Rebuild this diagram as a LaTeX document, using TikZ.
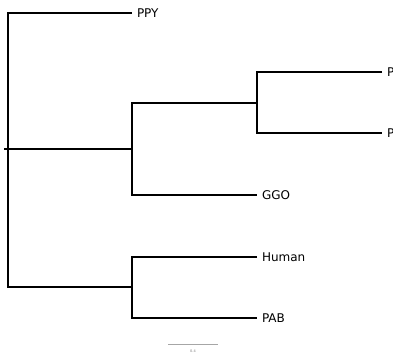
\documentclass[tikz,border=0pt]{standalone}
\usepackage{fontspec}
\setmainfont{DejaVu Sans}
\usetikzlibrary{positioning}
\begin{document}
\begin{tikzpicture}[x=1pt,y=-1pt,
  branch/.style={line width=1.8pt},
  leaf/.style={anchor=west,inner sep=0pt,outer sep=0pt,xshift=5pt,font=\fontsize{12}{14}\selectfont},
  scalebar/.style={draw=gray!70,line width=0.7pt}]
  \useasboundingbox (0,0) rectangle (393,360);
  \clip (0,0) rectangle (393,360);
  % inner nodes of the tree
  \coordinate (stem) at (4,149);
  \coordinate (root) at (8,149);
  \coordinate (ape) at (132,149);
  \coordinate (pan) at (257,103);
  \coordinate (pongo) at (132,287);
  % tips
  \coordinate (tppy) at (132,13);
  \coordinate (tp1) at (382,72);
  \coordinate (tp2) at (382,133);
  \coordinate (tggo) at (257,195);
  \coordinate (thum) at (257,257);
  \coordinate (tpab) at (257,318);
  \node[leaf](ppy) at (tppy) {PPY};
  \node[leaf](p1) at (tp1) {P};
  \node[leaf](p2) at (tp2) {P};
  \node[leaf](ggo) at (tggo) {GGO};
  \node[leaf](hum) at (thum) {Human};
  \node[leaf](pab) at (tpab) {PAB};
  % branches
  \draw[branch](stem)--(root);
  \draw[branch](tppy)-|(root)|-(pongo);
  \draw[branch](root)--(ape);
  \draw[branch](pan)-|(ape)|-(tggo);
  \draw[branch](tp1)-|(pan)|-(tp2);
  \draw[branch](thum)-|(pongo)|-(tpab);
  % scale
  \coordinate (sa) at (168,344.5);
  \coordinate (sb) at (218,344.5);
  \draw[scalebar](sa)--(sb);
  \node[text=gray,font=\fontsize{3.5}{4}\selectfont,inner sep=0pt](slab) at (193,351) {0.4};
\end{tikzpicture}
\end{document}
